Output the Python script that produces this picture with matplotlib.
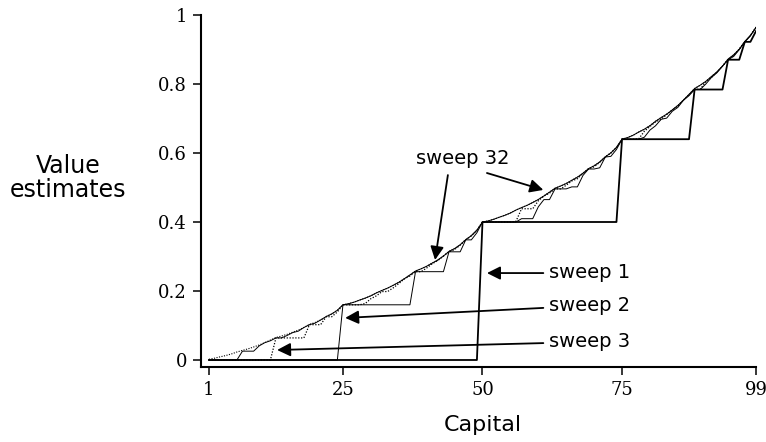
import matplotlib
matplotlib.use("Agg")
import matplotlib.pyplot as plt

states = list(range(1, 100))

sweep1 = [0, 0, 0, 0, 0, 0, 0, 0, 0, 0,
          0, 0, 0, 0, 0, 0, 0, 0, 0, 0,
          0, 0, 0, 0, 0, 0, 0, 0, 0, 0,
          0, 0, 0, 0, 0, 0, 0, 0, 0, 0,
          0, 0, 0, 0, 0, 0, 0, 0, 0, 0.4,
          0.4, 0.4, 0.4, 0.4, 0.4, 0.4, 0.4, 0.4, 0.4, 0.4,
          0.4, 0.4, 0.4, 0.4, 0.4, 0.4, 0.4, 0.4, 0.4, 0.4,
          0.4, 0.4, 0.4, 0.4, 0.64, 0.64, 0.64, 0.64, 0.64, 0.64,
          0.64, 0.64, 0.64, 0.64, 0.64, 0.64, 0.64, 0.784, 0.784, 0.784,
          0.784, 0.784, 0.784, 0.8704, 0.8704, 0.8704, 0.9222, 0.9222, 0.9533]

sweep2 = [0, 0, 0, 0, 0, 0, 0, 0, 0, 0,
          0, 0, 0, 0, 0, 0, 0, 0, 0, 0,
          0, 0, 0, 0, 0.16, 0.16, 0.16, 0.16, 0.16, 0.16,
          0.16, 0.16, 0.16, 0.16, 0.16, 0.16, 0.16, 0.256, 0.256, 0.256,
          0.256, 0.256, 0.256, 0.3136, 0.3136, 0.3136, 0.3482, 0.3482, 0.3689, 0.4,
          0.4, 0.4, 0.4, 0.4, 0.4, 0.4, 0.4096, 0.4096, 0.4096, 0.444,
          0.4649, 0.4649, 0.496, 0.496, 0.496, 0.5018, 0.5018, 0.5349, 0.5536, 0.5536,
          0.5571, 0.5882, 0.5903, 0.6102, 0.64, 0.64, 0.64, 0.64, 0.6458, 0.6664,
          0.6789, 0.6976, 0.7011, 0.7209, 0.7322, 0.7529, 0.7661, 0.784, 0.784, 0.7998,
          0.8186, 0.8325, 0.8517, 0.8704, 0.8799, 0.8995, 0.9222, 0.9397, 0.9638]

sweep3 = [0, 0, 0, 0, 0, 0, 0, 0, 0, 0,
          0, 0, 0.064, 0.064, 0.064, 0.064, 0.064, 0.064, 0.1024, 0.1024,
          0.1024, 0.1254, 0.1254, 0.1393, 0.16, 0.16, 0.16, 0.16, 0.1638, 0.1777,
          0.186, 0.1984, 0.1984, 0.209, 0.2214, 0.2353, 0.2436, 0.256, 0.256, 0.2666,
          0.279, 0.2884, 0.3012, 0.3136, 0.32, 0.333, 0.3482, 0.3598, 0.3759, 0.4,
          0.4, 0.4, 0.4, 0.4, 0.4, 0.402, 0.4384, 0.4384, 0.4384, 0.4614,
          0.4753, 0.4836, 0.496, 0.496, 0.5066, 0.519, 0.5254, 0.5412, 0.5536, 0.56,
          0.573, 0.5882, 0.5998, 0.6159, 0.64, 0.64, 0.64, 0.6412, 0.663, 0.6768,
          0.6902, 0.6976, 0.7114, 0.7247, 0.736, 0.7529, 0.7695, 0.784, 0.7847, 0.8061,
          0.8186, 0.8348, 0.8517, 0.8704, 0.8837, 0.9009, 0.9222, 0.9405, 0.9643]

sweep4 = [0, 0, 0, 0, 0, 0, 0.0256, 0.0256, 0.0256, 0.041,
          0.0502, 0.0557, 0.064, 0.064, 0.0711, 0.0794, 0.0836, 0.0941, 0.1024, 0.1067,
          0.1160, 0.1259, 0.1336, 0.1442, 0.16, 0.1631, 0.1677, 0.1738, 0.1794, 0.1861,
          0.1946, 0.2017, 0.2084, 0.2165, 0.2252, 0.2355, 0.2465, 0.2579, 0.2643, 0.2717,
          0.2810, 0.2899, 0.3013, 0.3147, 0.3230, 0.3339, 0.3488, 0.3604, 0.3762, 0.4,
          0.4031, 0.4078, 0.4138, 0.4194, 0.4261, 0.4346, 0.4417, 0.4484, 0.4565, 0.4652,
          0.4755, 0.4865, 0.4979, 0.5043, 0.5116, 0.5210, 0.5299, 0.5413, 0.5547, 0.5630,
          0.5740, 0.5888, 0.6004, 0.6162, 0.64, 0.6447, 0.6516, 0.6608, 0.6690, 0.6791,
          0.6919, 0.7026, 0.7126, 0.7248, 0.7378, 0.7533, 0.7697, 0.7868, 0.7965, 0.8075,
          0.8215, 0.8349, 0.8520, 0.8721, 0.8845, 0.9009, 0.9232, 0.9406, 0.9643]

sweep32 = [0.0021, 0.0052, 0.0092, 0.0129, 0.0174, 0.0231, 0.0278, 0.0323, 0.0377, 0.0435,
           0.0504, 0.0577, 0.0652, 0.0695, 0.0744, 0.0807, 0.0866, 0.0942, 0.1031, 0.1087,
           0.1160, 0.1259, 0.1336, 0.1442, 0.16, 0.1631, 0.1677, 0.1738, 0.1794, 0.1861,
           0.1946, 0.2017, 0.2084, 0.2165, 0.2252, 0.2355, 0.2465, 0.2579, 0.2643, 0.2717,
           0.2810, 0.2899, 0.3013, 0.3147, 0.3230, 0.3339, 0.3488, 0.3604, 0.3762, 0.4,
           0.4031, 0.4078, 0.4138, 0.4194, 0.4261, 0.4346, 0.4417, 0.4484, 0.4565, 0.4652,
           0.4755, 0.4865, 0.4979, 0.5043, 0.5116, 0.5210, 0.5299, 0.5413, 0.5547, 0.5630,
           0.5740, 0.5888, 0.6004, 0.6162, 0.64, 0.6447, 0.6516, 0.6608, 0.6690, 0.6791,
           0.6919, 0.7026, 0.7126, 0.7248, 0.7378, 0.7533, 0.7697, 0.7868, 0.7965, 0.8075,
           0.8215, 0.8349, 0.8520, 0.8721, 0.8845, 0.9009, 0.9232, 0.9406, 0.9643]

x_ticks = [1, 25, 50, 75, 99]
y_ticks = [0, 0.2, 0.4, 0.6, 0.8, 1]
y_tick_labels = ["0", "0.2", "0.4", "0.6", "0.8", "1"]

# annotation label, text anchor (data), arrow tails and tips (data)
labels = ["sweep 1", "sweep 2", "sweep 3", "sweep 32"]
label_pos = [(61.9, 0.255), (61.9, 0.159), (61.9, 0.055), (38.0, 0.585)]
arrows = [[((60.9, 0.252), (50.8, 0.252))],
          [((60.9, 0.151), (25.4, 0.122))],
          [((60.9, 0.049), (13.2, 0.029))],
          [((43.8, 0.536), (41.5, 0.290)), ((50.8, 0.542), (60.9, 0.493))]]

W, H = 766, 442
fig = plt.figure(figsize=(W / 100, H / 100), dpi=100)
ax = fig.add_axes([201 / W, 75 / H, 555 / W, 352 / H])

ax.plot(states, sweep32, color="black", lw=0.8, ls=(0, (1, 1.3)))
ax.plot(states, sweep4, color="black", lw=0.7)
ax.plot(states, sweep3, color="black", lw=0.9, ls=(0, (1, 1.3)))
ax.plot(states, sweep2, color="black", lw=0.7)
ax.plot(states, sweep1, color="black", lw=1.3)

ax.set_xlim(-0.43, 99)
ax.set_ylim(-0.0203, 1.0)
for side in ["top", "right"]:
    ax.spines[side].set_visible(False)
for side in ["left", "bottom"]:
    ax.spines[side].set_linewidth(1.5)

ax.set_xticks(x_ticks)
ax.set_xticklabels([str(t) for t in x_ticks])
ax.set_yticks(y_ticks)
ax.set_yticklabels(y_tick_labels)
ax.tick_params(axis="both", direction="out", length=6, width=1.1,
               labelsize=13, pad=4)
for lab in ax.get_xticklabels() + ax.get_yticklabels():
    lab.set_family("DejaVu Serif")

for lab, pos in zip(labels, label_pos):
    ax.text(pos[0], pos[1], lab, ha="left", va="center", fontsize=14,
            family="DejaVu Sans")
for group in arrows:
    for tail, tip in group:
        ax.annotate("", xy=tip, xytext=tail,
                    arrowprops=dict(arrowstyle="-|>", color="black", lw=1.3,
                                    mutation_scale=20, shrinkA=0, shrinkB=0))

fig.text(68 / W, 1 - 178 / H, "Value\nestimates", ha="center", va="center",
         fontsize=17, family="DejaVu Sans", linespacing=1.0)
fig.text(483 / W, 1 - 425 / H, "Capital", ha="center", va="center",
         fontsize=16, family="DejaVu Sans")

fig.savefig("out.png", dpi=100)
